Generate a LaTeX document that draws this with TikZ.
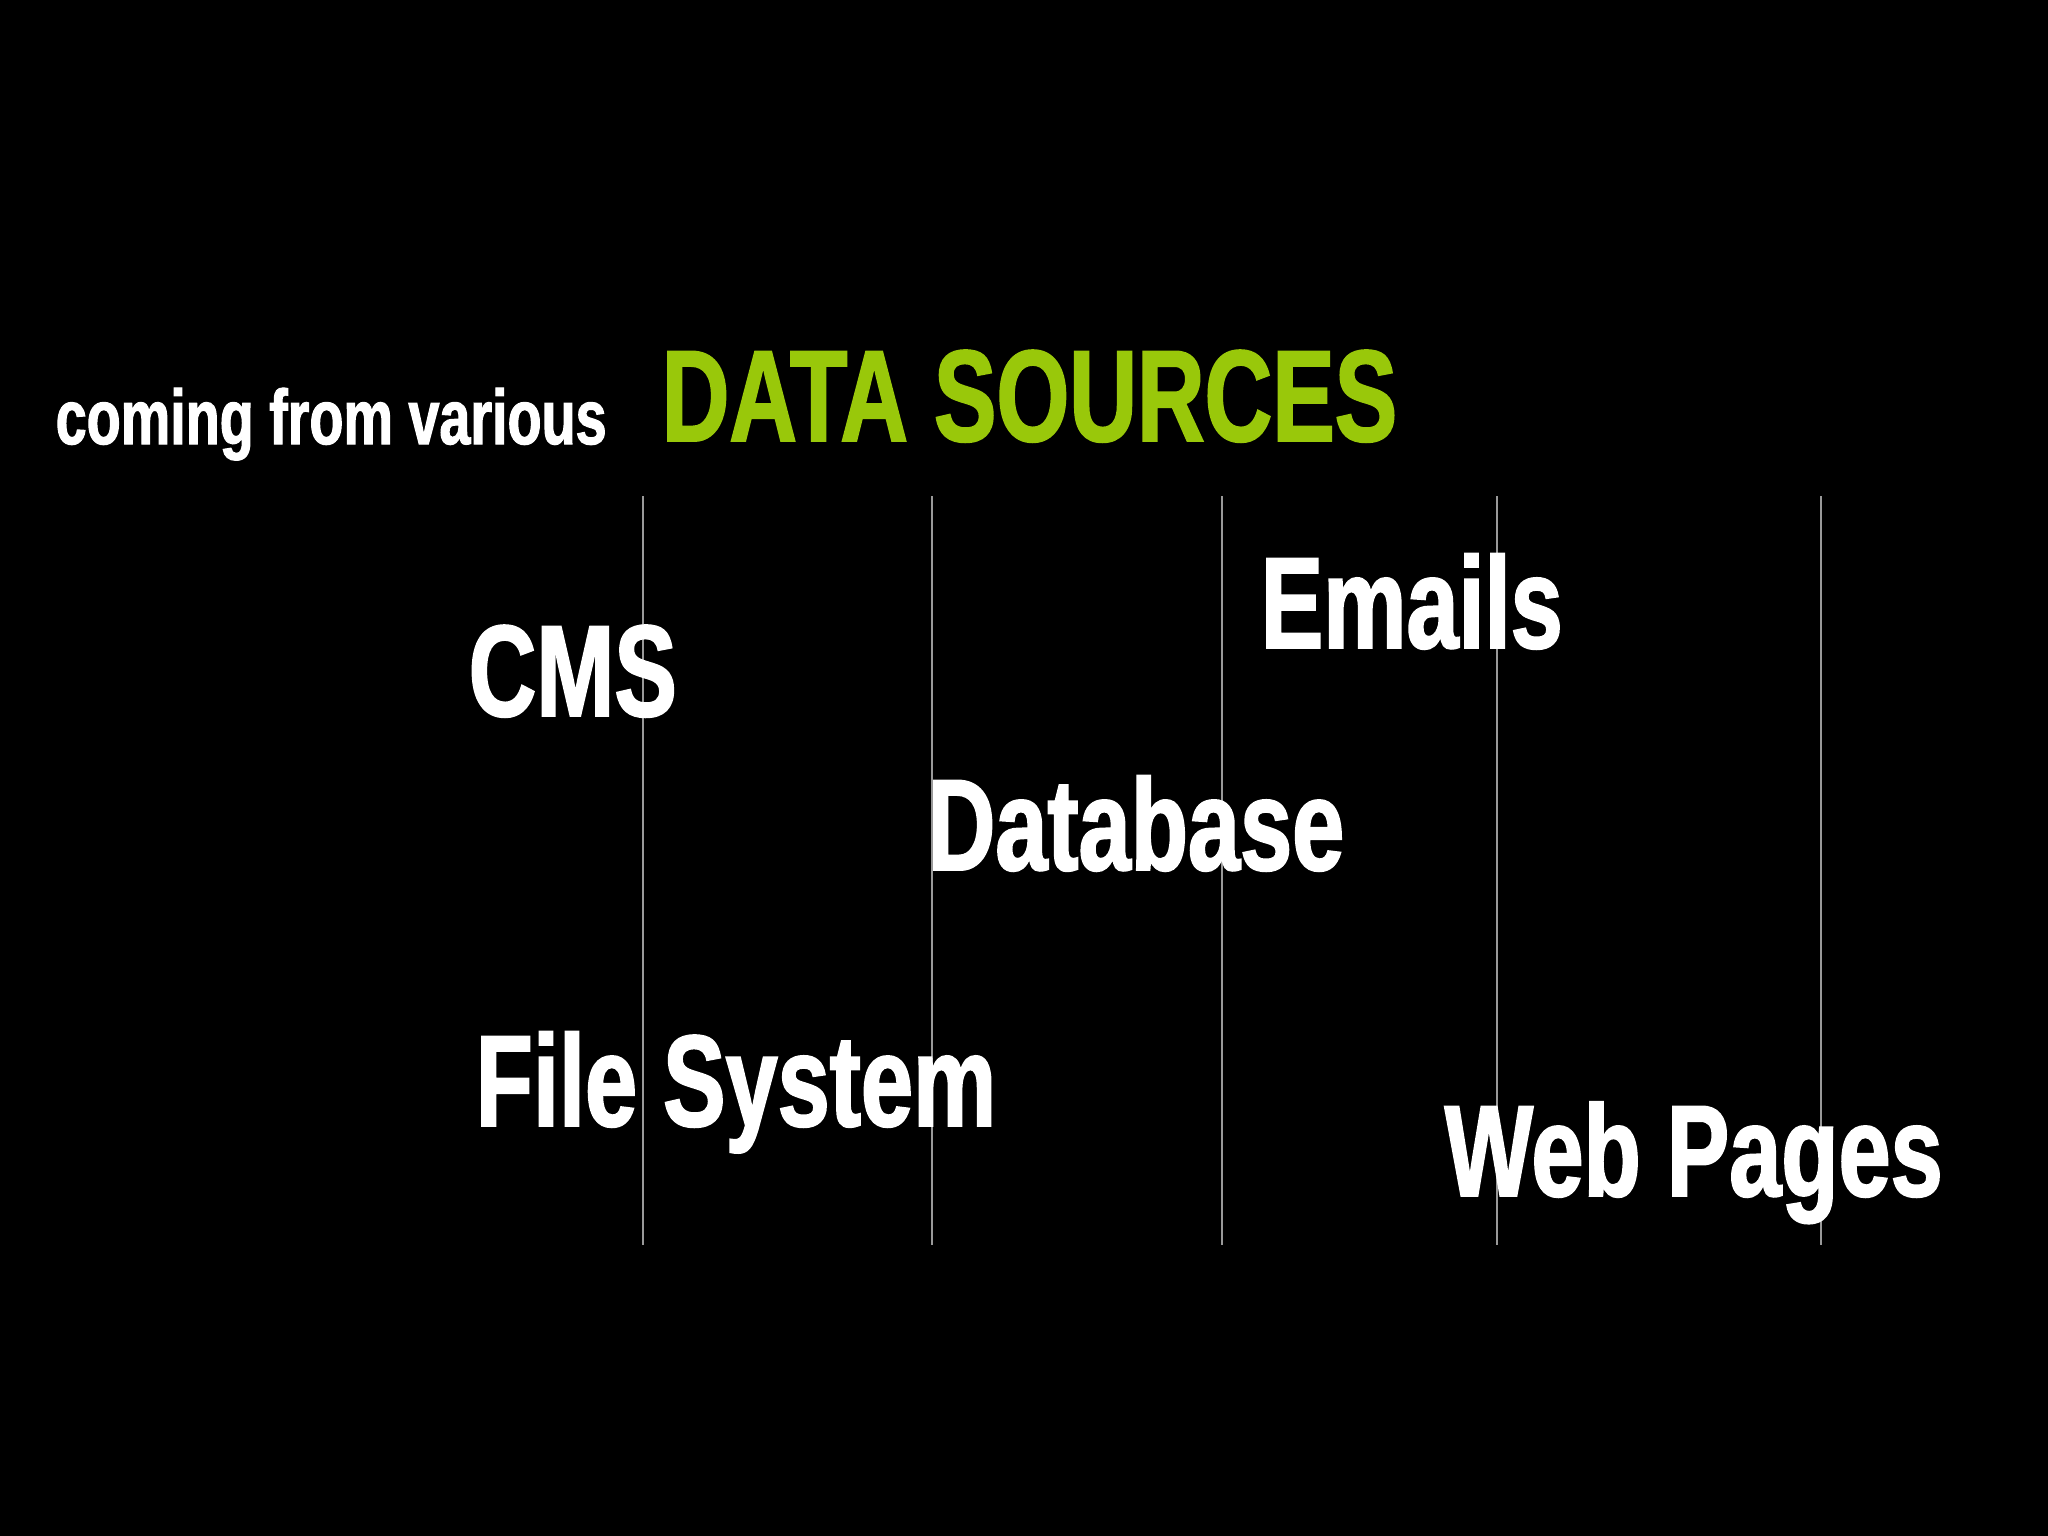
\documentclass[tikz,border=0pt]{standalone}
\usepackage{fontspec}
\setmainfont{Liberation Sans}[FakeStretch=0.72,BoldFont={* Bold},BoldFeatures={FakeBold=1.5}]
\definecolor{lime}{HTML}{99C80A}
\begin{document}
\begin{tikzpicture}[x=0.01cm,y=-0.01cm,
  big/.style={anchor=base west,inner sep=0pt,text=white,font=\fontsize{37}{40}\selectfont\bfseries},
  small/.style={anchor=base west,inner sep=0pt,text=white,font=\fontsize{22}{24}\selectfont\bfseries},
  vline/.style={draw=gray!80,line width=0.6pt}]
\fill[black] (0,0) rectangle (2048,1536);
\foreach \x [count=\i] in {643,932,1222,1497,1821}{
  \coordinate (t\i) at (\x,496); \coordinate (b\i) at (\x,1245);
  \draw[vline] (t\i) -- (b\i);}
\node[small] (cf) at (55,444) {coming from various};
\node[big,text=lime] (ds) at (661,441) {DATA SOURCES};
\node[big] (cms) at (468,716) {CMS};
\node[big] (em) at (1260,648) {Emails};
\node[big] (db) at (927,870) {Database};
\node[big] (fs) at (475,1126) {File System};
\node[big] (wp) at (1444,1196) {Web Pages};
\end{tikzpicture}
\end{document}
